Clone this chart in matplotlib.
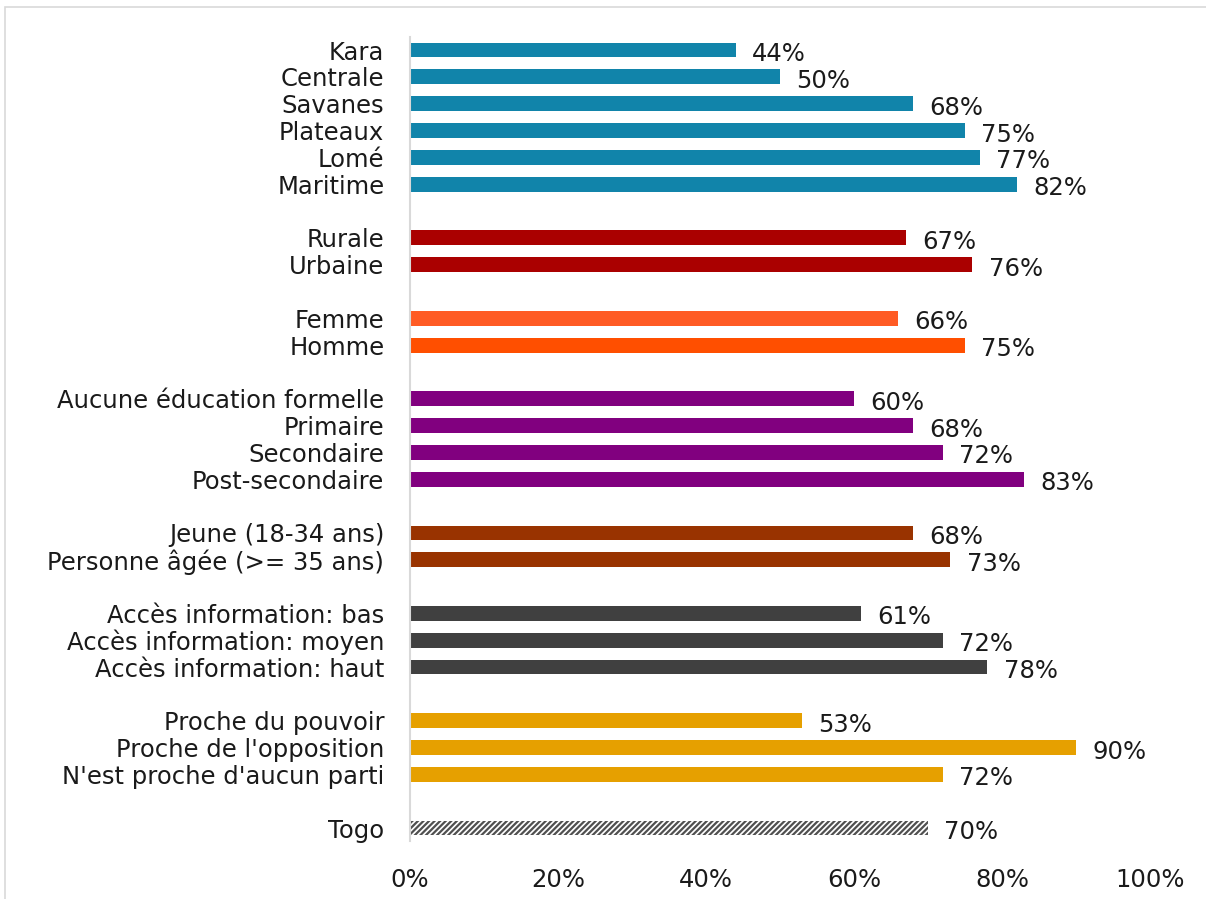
import matplotlib.pyplot as plt
from matplotlib.patches import Rectangle

# -------------------------
# Data
# -------------------------
regions = ["Kara", "Centrale", "Savanes", "Plateaux", "Lomé", "Maritime"]
region_vals = [44, 50, 68, 75, 77, 82]

milieu = ["Rurale", "Urbaine"]
milieu_vals = [67, 76]

genre = ["Femme", "Homme"]
genre_vals = [66, 75]

education = ["Aucune éducation formelle", "Primaire", "Secondaire", "Post-secondaire"]
education_vals = [60, 68, 72, 83]

age = ["Jeune (18-34 ans)", "Personne âgée (>= 35 ans)"]
age_vals = [68, 73]

acces = ["Accès information: bas", "Accès information: moyen", "Accès information: haut"]
acces_vals = [61, 72, 78]

parti = ["Proche du pouvoir", "Proche de l'opposition", "N'est proche d'aucun parti"]
parti_vals = [53, 90, 72]

total = ["Togo"]
total_vals = [70]

groups = [
    (regions, region_vals, ["#1184AA"] * 6),
    (milieu, milieu_vals, ["#AA0000"] * 2),
    (genre, genre_vals, ["#FF5B24", "#FF4F00"]),
    (education, education_vals, ["#81007F"] * 4),
    (age, age_vals, ["#993300"] * 2),
    (acces, acces_vals, ["#404040"] * 3),
    (parti, parti_vals, ["#E6A000"] * 3),
]

FS = 17.5
TXT = '#1a1a1a'
GAP = 2.2  # label offset from bar end, in %

plt.rcParams['font.family'] = ['DejaVu Sans']
plt.rcParams['hatch.color'] = '#505050'
plt.rcParams['hatch.linewidth'] = 1.6

fig = plt.figure(figsize=(12.06, 8.99), dpi=100)
# light frame like the source screenshot
fig.patches.append(Rectangle((0.004, -0.01), 1.2, 1.002, transform=fig.transFigure,
                             fill=False, edgecolor='#D9D9D9', linewidth=1.2))
ax = fig.add_axes([0.34, 0.064, 0.6136, 0.8953])

labels, pos = [], []
row = 0
for names, vals, cols in groups:
    for n, v, c in zip(names, vals, cols):
        ax.barh(row, v, height=0.55, color=c)
        ax.text(v + GAP, row + 0.15, f"{v}%", va='center', ha='left', fontsize=FS, color=TXT)
        labels.append(n)
        pos.append(row)
        row += 1
    row += 1

for n, v in zip(total, total_vals):
    ax.barh(row, v, height=0.55, color='white', hatch='//////', edgecolor='#505050', linewidth=0)
    ax.text(v + GAP, row + 0.15, f"{v}%", va='center', ha='left', fontsize=FS, color=TXT)
    labels.append(n)
    pos.append(row)

ax.set_yticks(pos)
ax.set_yticklabels(labels, fontsize=FS, color=TXT)
ax.set_ylim(row + 0.5, -0.5)
ax.set_xlim(0, 100)
ax.set_xticks(range(0, 101, 20))
ax.set_xticklabels([f"{t}%" for t in range(0, 101, 20)], fontsize=FS, color=TXT)
ax.tick_params(axis='y', length=0, pad=18.5)
ax.tick_params(axis='x', length=0, pad=19)
for s in ['top', 'right', 'bottom']:
    ax.spines[s].set_visible(False)
ax.spines['left'].set_color('#D9D9D9')
ax.spines['left'].set_linewidth(1.5)

fig.savefig("out.png", dpi=100)
